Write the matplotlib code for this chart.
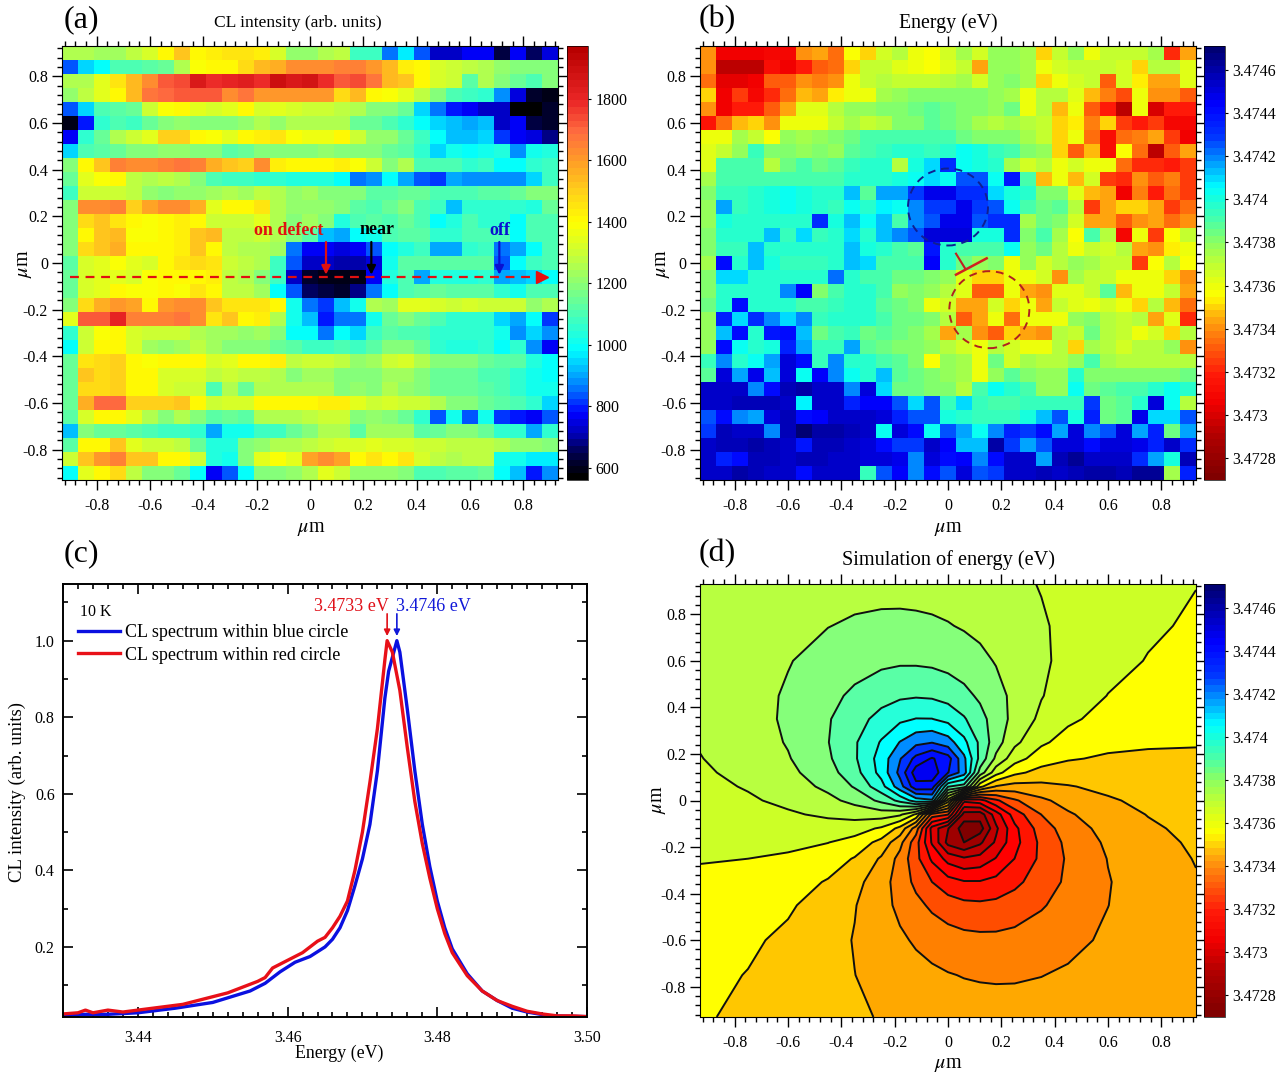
import numpy as np
import matplotlib
matplotlib.use('Agg')
import matplotlib.pyplot as plt
from matplotlib.colors import LinearSegmentedColormap, Normalize
from matplotlib.patches import Ellipse
from matplotlib.cm import ScalarMappable
from matplotlib.ticker import MultipleLocator

plt.rcParams['font.family'] = ['Liberation Serif', 'DejaVu Sans']
plt.rcParams['mathtext.fontset'] = 'stix'

W, H = 1288, 1072

# (a) CL intensity map, rows from top to bottom, counts / 10
cl_rows = [
    [125,125,124,124,128,132,142,153,142,144,146,146,143,132,122,122,125,128,108,108,86,96,83,73,73,77,78,64,77,66,75],
    [83,95,100,110,110,112,115,125,138,140,142,148,155,157,162,162,162,165,165,160,154,144,140,132,130,128,125,122,120,120,118],
    [125,125,135,146,154,164,171,174,185,178,180,183,178,190,185,188,179,172,174,168,155,152,140,132,130,113,125,120,115,110,118],
    [122,128,135,140,155,168,170,172,172,172,162,168,160,160,160,160,160,148,155,140,138,135,128,120,110,108,105,88,74,62,60],
    [84,94,110,112,115,130,138,140,135,132,135,140,132,135,132,130,130,128,125,118,118,115,94,86,80,78,72,72,58,58,62],
    [60,80,105,110,108,115,120,122,120,118,120,122,125,122,125,125,125,125,115,115,110,105,100,95,92,90,92,72,78,63,62],
    [78,105,115,125,130,135,150,150,140,138,135,142,143,146,138,136,136,140,130,122,122,115,108,100,92,93,95,81,77,75,68],
    [95,110,112,115,118,120,122,122,120,118,112,115,118,118,120,118,122,120,118,118,115,112,105,95,102,100,102,104,88,102,104],
    [118,142,152,166,162,162,165,168,165,156,153,150,162,144,142,140,140,144,138,130,118,125,110,110,110,105,108,100,100,105,108],
    [115,135,138,140,128,125,128,125,120,110,108,108,106,106,104,104,104,100,86,88,100,90,84,82,90,88,88,87,88,95,108],
    [108,130,130,130,128,122,118,122,122,123,125,123,128,125,122,123,120,120,120,112,113,115,115,110,110,110,112,113,115,118,118],
    [120,162,162,165,150,158,162,162,156,135,142,140,145,125,122,122,122,118,112,110,115,118,110,108,93,105,105,105,105,103,115],
    [120,148,153,145,140,138,140,144,140,130,130,130,134,125,120,123,118,103,110,112,110,115,110,100,103,110,105,105,98,110,110],
    [120,142,153,154,139,138,140,143,152,154,128,128,130,125,118,112,93,90,100,102,110,112,112,105,105,110,110,110,100,110,110],
    [120,148,153,156,141,140,142,144,152,142,128,125,125,123,86,77,77,75,77,84,100,103,108,90,90,105,108,85,90,100,110],
    [113,132,135,138,134,133,140,145,148,145,130,128,125,108,83,73,73,70,71,74,102,112,112,113,113,113,112,83,100,108,110],
    [115,133,135,135,133,138,140,140,142,143,128,125,120,108,73,62,60,60,60,76,103,110,90,104,104,104,105,90,93,95,100],
    [115,133,135,142,138,138,140,138,146,142,128,128,123,100,83,65,64,61,68,85,100,110,112,115,112,112,112,105,102,110,110],
    [120,148,156,160,158,142,160,162,162,152,145,146,145,142,102,86,82,93,102,125,123,135,135,132,130,132,130,130,130,122,125],
    [135,172,172,180,166,165,165,168,162,145,151,142,143,125,102,92,79,86,86,102,115,120,115,110,105,105,105,95,90,100,82],
    [105,130,138,140,132,130,130,130,125,123,123,122,123,118,100,100,86,100,95,108,112,110,110,105,105,105,105,102,88,95,88],
    [100,130,140,140,133,123,122,123,128,124,118,120,118,115,112,108,108,110,108,112,118,118,115,105,103,103,105,98,105,88,78],
    [115,145,148,150,140,138,140,140,140,132,135,140,140,144,128,130,130,128,122,123,130,133,125,120,118,118,115,112,112,103,98],
    [115,152,148,150,140,140,133,133,133,128,130,128,128,125,120,123,123,118,120,118,123,123,118,115,115,115,110,110,105,102,100],
    [115,148,148,150,140,140,132,130,130,110,125,115,125,125,125,125,125,120,122,118,125,122,118,115,115,115,112,110,105,102,102],
    [115,156,170,170,150,150,150,153,140,130,133,133,140,142,142,142,143,143,135,130,133,130,130,125,120,120,115,112,110,105,95],
    [113,133,140,140,135,125,120,125,120,112,115,112,125,125,125,128,130,130,120,122,118,115,105,83,101,84,102,82,79,77,84],
    [92,118,115,115,112,110,108,108,105,90,102,102,108,108,115,120,125,125,112,123,123,123,113,115,120,120,115,105,105,90,105],
    [113,142,142,152,135,130,130,128,115,103,103,118,122,125,125,128,130,133,133,135,133,132,130,130,128,128,128,125,122,122,118],
    [130,153,161,166,153,152,142,142,130,103,102,118,135,138,135,158,162,158,140,145,140,145,133,128,125,128,127,102,102,97,96],
    [100,135,140,148,128,120,120,115,98,78,84,100,120,120,122,125,135,130,122,122,122,120,110,110,112,113,115,100,92,80,88],
]

# (b) measured energy map, rows from top to bottom, (E - 3.47 eV) in 1e-5 eV
energy_rows = [
    [340,305,305,305,310,310,342,345,335,355,350,365,372,360,355,365,375,365,378,378,375,350,368,378,360,370,368,370,375,322,345],
    [340,292,292,292,312,305,318,332,335,350,368,370,362,358,355,362,368,345,378,378,375,358,365,368,368,368,365,350,372,372,362],
    [335,302,302,305,330,332,342,338,340,360,368,372,368,368,368,372,375,365,378,380,375,350,360,365,368,330,365,352,345,345,362],
    [350,305,325,308,322,335,348,345,352,358,360,375,378,380,382,382,382,380,378,375,358,372,372,362,348,338,328,358,342,342,330],
    [340,305,320,318,330,345,362,362,372,378,378,382,382,385,388,385,382,382,378,385,358,372,348,358,330,318,292,358,300,320,320],
    [315,335,348,350,340,358,360,358,368,375,368,372,380,382,388,385,382,375,372,375,372,370,350,352,338,350,325,318,325,308,308],
    [360,360,375,368,355,378,375,378,382,385,390,392,392,392,392,390,385,382,380,380,375,370,350,358,335,312,335,338,345,325,305],
    [362,368,378,395,382,382,378,382,378,388,392,395,398,398,395,398,402,400,395,390,380,378,350,330,348,312,355,335,292,330,345],
    [362,392,392,392,372,385,390,385,388,395,398,398,372,400,410,432,405,400,398,375,365,372,358,365,360,360,335,322,322,318,325],
    [375,390,392,392,392,392,392,392,392,396,396,396,400,405,410,402,425,425,402,438,390,348,358,348,365,325,322,340,332,338,325],
    [380,395,395,398,400,402,400,398,398,412,388,415,415,430,448,448,432,432,410,400,398,380,382,362,348,345,305,338,318,335,325],
    [378,415,395,398,400,402,400,396,395,405,396,408,402,418,430,430,448,430,425,405,392,385,388,372,325,345,350,350,345,325,335],
    [378,400,398,398,398,398,398,432,400,412,402,412,392,420,425,448,448,425,432,432,375,385,382,365,345,345,330,342,345,335,342],
    [380,396,396,398,412,395,410,395,398,410,398,412,418,425,450,450,450,400,400,432,382,392,375,355,390,372,310,358,325,355,370],
    [380,395,395,412,398,398,398,398,398,412,400,396,392,388,438,398,392,390,390,402,378,385,372,360,368,365,372,345,340,352,358],
    [375,440,398,412,400,395,395,395,396,412,410,392,392,392,445,398,385,378,380,358,378,365,372,378,375,370,368,325,355,372,355],
    [380,410,410,398,398,396,396,396,422,396,392,392,385,385,382,378,362,350,350,358,358,365,340,375,368,368,358,358,358,350,342],
    [382,396,396,396,396,420,445,380,390,396,396,392,378,380,378,372,362,332,332,358,345,340,362,362,368,388,348,358,358,368,345],
    [385,398,440,398,396,396,392,392,394,396,396,388,385,380,358,365,345,345,365,350,358,345,368,362,358,365,358,350,372,348,335],
    [378,435,410,432,420,410,418,395,396,396,396,390,385,385,382,372,332,345,358,335,358,360,360,378,382,372,368,372,345,362,322],
    [378,412,440,398,438,442,412,385,392,394,385,388,385,380,375,345,375,340,330,350,345,340,372,370,385,372,368,358,365,350,372],
    [378,440,405,396,400,435,415,395,395,415,388,385,382,382,378,372,365,358,372,365,360,358,372,350,375,372,365,372,372,378,342],
    [395,420,398,402,415,450,440,395,420,398,396,392,388,382,355,378,375,358,385,365,375,372,372,378,390,375,372,372,372,372,372],
    [388,450,415,448,412,450,405,445,418,405,398,412,388,385,380,378,375,358,378,388,382,378,378,398,380,380,382,382,382,382,385],
    [455,455,455,420,440,458,460,455,455,418,450,410,385,385,382,380,372,392,402,398,392,378,378,405,385,388,390,392,396,405,398],
    [455,455,458,458,458,455,408,455,455,435,445,445,425,410,425,395,410,395,392,392,395,395,395,395,430,385,388,398,452,405,372],
    [425,440,420,415,452,458,442,445,455,455,455,450,435,425,425,400,398,395,395,395,400,412,425,400,435,385,388,448,410,410,425],
    [430,458,455,455,420,458,470,460,460,458,455,405,452,440,402,425,415,402,420,435,430,440,415,452,420,425,450,415,435,385,415],
    [455,458,458,460,458,455,438,458,458,455,450,440,430,428,455,445,412,412,460,430,415,425,450,452,440,452,452,448,435,455,432],
    [455,435,440,458,458,455,458,458,455,455,452,450,448,420,452,442,445,420,440,455,455,415,458,462,455,455,455,432,415,400,458],
    [455,455,460,458,455,455,440,455,455,455,395,425,445,420,440,425,450,425,430,455,455,458,455,458,460,460,458,462,462,375,435],
]

# (c) spectra
red_energy = [3.43,3.432,3.433,3.434,3.436,3.438,3.44,3.442,3.444,3.446,3.448,3.45,3.452,3.454,3.456,3.457,3.458,3.46,3.462,3.464,3.465,3.466,3.467,3.468,3.469,3.47,3.471,3.472,3.473,3.4733,3.474,3.475,3.476,3.477,3.478,3.479,3.48,3.481,3.482,3.484,3.486,3.488,3.49,3.492,3.494,3.496,3.498,3.5]
red_counts = [.025,.028,.035,.028,.035,.03,.035,.04,.045,.05,.06,.07,.08,.095,.11,.12,.145,.165,.185,.215,.225,.25,.28,.32,.40,.50,.63,.77,.95,1.0,.97,.87,.72,.58,.47,.38,.30,.235,.185,.125,.085,.06,.045,.032,.025,.02,.02,.018]
blue_energy = [3.43,3.433,3.436,3.44,3.445,3.45,3.455,3.457,3.459,3.461,3.463,3.465,3.466,3.467,3.468,3.469,3.47,3.471,3.472,3.473,3.4735,3.4746,3.475,3.476,3.477,3.478,3.479,3.48,3.481,3.482,3.484,3.486,3.488,3.49,3.492,3.495,3.5]
blue_counts = [.02,.024,.024,.028,.04,.055,.085,.105,.135,.16,.175,.2,.22,.25,.295,.36,.43,.52,.66,.85,.92,1.0,.97,.82,.66,.52,.41,.32,.25,.195,.13,.085,.06,.04,.03,.02,.018]

# (d) simulated energy, rows from top to bottom, (E - 3.47 eV) in 1e-4 eV
sim_x = [-.93,-.75,-.6,-.45,-.35,-.25,-.18,-.12,-.06,0,.06,.12,.18,.25,.35,.45,.6,.75,.93]
sim_y = [.93,.75,.6,.45,.35,.25,.18,.12,.06,0,-.06,-.12,-.18,-.25,-.35,-.45,-.6,-.75,-.93]
sim_rows = [
    [38.05,38.26,38.42,38.56,38.63,38.65,38.65,38.62,38.58,38.52,38.44,38.35,38.25,38.11,37.91,37.71,37.44,37.20,36.97],
    [38.15,38.42,38.68,38.93,39.07,39.15,39.16,39.14,39.09,39.00,38.87,38.73,38.56,38.35,38.04,37.75,37.38,37.08,36.83],
    [38.19,38.54,38.90,39.30,39.55,39.74,39.81,39.80,39.74,39.60,39.41,39.17,38.89,38.56,38.10,37.70,37.23,36.91,36.66],
    [38.17,38.59,39.06,39.68,40.14,40.57,40.79,40.86,40.80,40.58,40.23,39.78,39.28,38.71,38.00,37.47,36.93,36.62,36.42],
    [38.11,38.56,39.10,39.87,40.55,41.29,41.75,41.98,41.97,41.65,41.05,40.29,39.49,38.64,37.73,37.13,36.61,36.36,36.22],
    [38.01,38.45,39.02,39.92,40.83,42.04,42.99,43.67,43.90,43.41,42.22,40.74,39.38,38.18,37.12,36.57,36.19,36.05,36.00],
    [37.92,38.33,38.88,39.80,40.81,42.38,43.88,45.25,46.05,45.37,43.17,40.65,38.74,37.37,36.42,36.03,35.83,35.81,35.84],
    [37.82,38.19,38.69,39.56,40.56,42.29,44.25,46.50,46.60,45.00,43.43,39.54,37.36,36.19,35.61,35.48,35.50,35.59,35.70],
    [37.70,38.02,38.45,39.18,40.04,41.58,43.53,45.60,45.50,41.00,40.50,36.20,34.87,34.57,34.68,34.89,35.17,35.37,35.56],
    [37.58,37.83,38.16,38.68,39.25,40.19,41.24,42.44,42.80,36.50,30.20,30.56,31.76,32.81,33.75,34.32,34.84,35.17,35.42],
    [37.44,37.63,37.83,38.11,38.32,38.43,38.13,36.80,32.50,32.00,27.50,27.40,29.47,31.42,32.96,33.82,34.55,34.98,35.30],
    [37.30,37.41,37.50,37.52,37.39,36.81,35.64,33.46,29.57,28.00,26.40,26.50,28.75,30.71,32.44,33.44,34.31,34.81,35.18],
    [37.16,37.19,37.17,36.97,36.58,35.63,34.26,32.35,29.83,27.63,26.95,27.75,29.12,30.62,32.19,33.20,34.12,34.67,35.08],
    [37.00,36.95,36.81,36.43,35.88,34.82,33.62,32.26,30.78,29.59,29.10,29.33,30.01,30.96,32.17,33.08,33.98,34.55,34.99],
    [36.78,36.64,36.39,35.87,35.27,34.36,33.51,32.71,31.95,31.35,31.03,31.02,31.25,31.71,32.45,33.13,33.90,34.44,34.89],
    [36.58,36.38,36.07,35.53,35.00,34.29,33.72,33.22,32.77,32.42,32.20,32.14,32.21,32.43,32.86,33.32,33.94,34.41,34.83],
    [36.34,36.09,35.77,35.30,34.90,34.44,34.11,33.83,33.59,33.40,33.26,33.20,33.19,33.26,33.45,33.70,34.10,34.46,34.81],
    [36.17,35.92,35.62,35.25,34.96,34.65,34.44,34.27,34.13,34.00,33.91,33.86,33.84,33.85,33.93,34.07,34.32,34.58,34.85],
    [36.03,35.80,35.56,35.29,35.09,34.89,34.75,34.65,34.56,34.48,34.42,34.38,34.35,34.35,34.37,34.44,34.58,34.74,34.95],
]

map_ticks = [-.8, -.6, -.4, -.2, 0, .2, .4, .6, .8]
map_labels = ['-0.8', '-0.6', '-0.4', '-0.2', '0', '0.2', '0.4', '0.6', '0.8']
energy_ticks = [3.4728, 3.473, 3.4732, 3.4734, 3.4736, 3.4738, 3.474, 3.4742, 3.4744, 3.4746]
energy_labels = ['3.4728', '3.473', '3.4732', '3.4734', '3.4736', '3.4738', '3.474', '3.4742', '3.4744', '3.4746']
cl_ticks = [600, 800, 1000, 1200, 1400, 1600, 1800]

TICK = 11.5

# fill colour of each contour band of (d), lowest band first
band_colors = [(.5, 0, 0), (.62, 0, 0), (.75, 0, 0), (.88, 0, 0), (1, 0, 0), (1, .08, 0), (1, .3, 0), (1, .5, 0),
               (1, .66, 0), (1, .78, 0), (1, 1, 0), (.8, 1, .15), (.72, 1, .25), (.52, 1, .48), (.35, 1, .65),
               (.15, 1, .85), (0, 1, 1), (0, .55, 1), (0, .2, 1), (0, .05, 1), (0, 0, .95), (0, 0, .95)]


def make_cmap(stops, vmin, vmax):
    return LinearSegmentedColormap.from_list('m', [((v - vmin) / (vmax - vmin), c) for v, c in stops], N=64)


CL_MIN, CL_MAX = 561, 1972
E_MIN, E_MAX = 3.4727, 3.47471
cl_cmap = make_cmap([(561, (0, 0, 0)), (640, (0, 0, .3)), (700, (0, 0, .7)), (770, (0, 0, 1)), (860, (0, .5, 1)),
                     (980, (0, 1, 1)), (1100, (.3, 1, .7)), (1200, (.55, 1, .45)), (1300, (.8, 1, .2)),
                     (1400, (1, 1, 0)), (1500, (1, .82, .1)), (1600, (1, .62, .15)), (1700, (1, .42, .25)),
                     (1800, (.92, .15, .15)), (1972, (.72, 0, 0))], CL_MIN, CL_MAX)
en_cmap = make_cmap([(3.4727, (.5, 0, 0)), (3.4729, (.7, 0, 0)), (3.47305, (.95, 0, 0)), (3.47318, (1, .1, .03)),
                     (3.47335, (1, .45, .05)), (3.47345, (1, .68, .05)), (3.47355, (1, 1, 0)), (3.4736, (.92, 1, .05)),
                     (3.4737, (.75, 1, .2)), (3.4738, (.55, 1, .38)), (3.4739, (.3, 1, .65)), (3.474, (.1, 1, .85)),
                     (3.47406, (0, 1, 1)), (3.47418, (0, .6, 1)), (3.4743, (0, .2, 1)), (3.47445, (0, 0, 1)),
                     (3.47471, (0, 0, .45))], E_MIN, E_MAX)


def px_axes(left, top, right, bottom):
    return fig.add_axes([left / W, 1 - bottom / H, (right - left) / W, (bottom - top) / H])


def put(x, y, s, **kw):
    fig.text(x / W, 1 - y / H, s, ha=kw.pop('ha', 'center'), va='center', **kw)


def style_map(ax):
    ax.set_xlim(-.93, .93)
    ax.set_ylim(-.93, .93)
    ax.set_xticks(map_ticks, map_labels, fontsize=TICK)
    ax.set_yticks(map_ticks, map_labels, fontsize=TICK)
    ax.xaxis.set_minor_locator(MultipleLocator(.04))
    ax.yaxis.set_minor_locator(MultipleLocator(.04))
    ax.tick_params(which='both', direction='out', top=True, right=True, width=1)
    ax.tick_params(which='major', length=7)
    ax.tick_params(which='minor', length=3.5)
    ax.tick_params(axis='x', which='major', pad=6)
    ax.tick_params(axis='y', which='major', pad=3)


def style_cbar(cb, ticks, labels):
    cb.set_ticks(ticks, labels=labels, fontsize=TICK)
    cb.ax.minorticks_off()
    cb.ax.tick_params(length=2.5, width=.8, pad=3)
    cb.outline.set_linewidth(.5)


fig = plt.figure(figsize=(W / 100, H / 100), dpi=100)
edges = np.linspace(-.93, .93, 32)

# (a)
ax_a = px_axes(62, 46, 558, 480)
cl_map = 10 * np.array(cl_rows)[::-1]
mesh_a = ax_a.pcolormesh(edges, edges, cl_map, cmap=cl_cmap, vmin=CL_MIN, vmax=CL_MAX)
style_map(ax_a)
ax_a.plot([-.9, .86], [-.06, -.06], color='#e01010', ls=(0, (4, 3)), lw=1.6)
ax_a.plot([.87], [-.06], marker='>', color='#e81010', ms=9, clip_on=False)
for ax_x, col in [(.06, '#e01010'), (.23, 'black'), (.71, '#0a10d0')]:
    ax_a.annotate('', xy=(ax_x, -.05), xytext=(ax_x, .09),
                  arrowprops=dict(arrowstyle='-|>', color=col, lw=1.6, mutation_scale=13, shrinkA=0, shrinkB=0))
ax_a.text(-.08, .14, 'on defect', color='#e01010', fontweight='bold', fontsize=13, ha='center', va='center')
ax_a.text(.25, .145, 'near', color='black', fontweight='bold', fontsize=13, ha='center', va='center')
ax_a.text(.71, .14, 'off', color='#0a10d0', fontweight='bold', fontsize=13, ha='center', va='center')
cb_a = fig.colorbar(mesh_a, cax=px_axes(567, 46, 588, 480))
style_cbar(cb_a, cl_ticks, [str(t) for t in cl_ticks])

# (b)
ax_b = px_axes(700, 46, 1196, 480)
energy_map = 3.47 + np.array(energy_rows)[::-1] * 1e-5
mesh_b = ax_b.pcolormesh(edges, edges, energy_map, cmap=en_cmap, vmin=E_MIN, vmax=E_MAX)
style_map(ax_b)
ax_b.add_patch(Ellipse((0, .24), .30, .33, fill=False, ec='#101f90', ls=(0, (4, 3)), lw=1.4))
ax_b.add_patch(Ellipse((.155, -.2), .30, .33, fill=False, ec='#b02020', ls=(0, (4, 3)), lw=1.4))
ax_b.plot([.03, .065], [.04, -.025], color='#c02020', lw=1.5)
ax_b.plot([.03, .145], [-.05, .02], color='#d02020', lw=1.8)
cb_b = fig.colorbar(mesh_b, cax=px_axes(1204, 46, 1225, 480))
style_cbar(cb_b, energy_ticks, energy_labels)

# (c)
ax_c = px_axes(63, 584, 587, 1017)
ax_c.plot(blue_energy, blue_counts, color='#0a10e0', lw=2.4, label='CL spectrum within blue circle')
ax_c.plot(red_energy, red_counts, color='#e81018', lw=2.4, label='CL spectrum within red circle')
ax_c.set_xlim(3.43, 3.50)
ax_c.set_ylim(.017, 1.148)
ax_c.set_xticks([3.44, 3.46, 3.48, 3.50], ['3.44', '3.46', '3.48', '3.50'], fontsize=TICK)
ax_c.set_yticks([.2, .4, .6, .8, 1.0], ['0.2', '0.4', '0.6', '0.8', '1.0'], fontsize=TICK)
ax_c.xaxis.set_minor_locator(MultipleLocator(.002))
ax_c.yaxis.set_minor_locator(MultipleLocator(.1))
ax_c.tick_params(which='both', direction='in', top=True, right=True, width=1.2)
ax_c.tick_params(which='major', length=7)
ax_c.tick_params(axis='x', which='major', pad=9)
ax_c.tick_params(axis='y', which='major', pad=6)
ax_c.tick_params(which='minor', length=3.5)
for spine in ax_c.spines.values():
    spine.set_linewidth(1.4)
ax_c.legend(loc='upper left', bbox_to_anchor=(.029, .908), frameon=False, fontsize=13, handlelength=2.3,
            handletextpad=.3, labelspacing=.33, borderpad=0, borderaxespad=0)
ax_c.text(3.4323, 1.075, '10 K', fontsize=11.5, va='center')
ax_c.text(3.4735, 1.09, '3.4733 eV', color='#e01018', fontsize=13, ha='right', va='center')
ax_c.text(3.4745, 1.09, '3.4746 eV', color='#1018d8', fontsize=13, ha='left', va='center')
ax_c.annotate('', xy=(3.4733, 1.012), xytext=(3.4733, 1.07),
              arrowprops=dict(arrowstyle='-|>', color='#e01018', lw=1.2, mutation_scale=9, shrinkA=0, shrinkB=0))
ax_c.annotate('', xy=(3.4746, 1.012), xytext=(3.4746, 1.07),
              arrowprops=dict(arrowstyle='-|>', color='#1018d8', lw=1.2, mutation_scale=9, shrinkA=0, shrinkB=0))

# (d)
ax_d = px_axes(700, 584, 1196, 1017)
sim_map = 3.47 + np.array(sim_rows) * 1e-4
levels = 3.47 + (np.arange(26, 49) - .05) * 1e-4
sim_norm = Normalize(E_MIN, E_MAX)
ax_d.contourf(sim_x, sim_y, sim_map, levels=levels, colors=band_colors)
ax_d.contour(sim_x, sim_y, sim_map, levels=levels, colors='#101010', linewidths=1.4, linestyles='solid')
style_map(ax_d)
cb_d = fig.colorbar(ScalarMappable(norm=sim_norm, cmap=en_cmap), cax=px_axes(1204, 584, 1225, 1017))
style_cbar(cb_d, energy_ticks, energy_labels)

# titles and axis labels
put(298, 23, 'CL intensity (arb. units)', fontsize=12.6)
put(948, 23, 'Energy (eV)', fontsize=14.3)
put(948, 560, 'Simulation of energy (eV)', fontsize=14.6)
for x, y, s in [(81, 20, '(a)'), (717, 20, '(b)'), (81, 554, '(c)'), (717, 554, '(d)')]:
    put(x, y, s, fontsize=23)
for x, y in [(311, 528), (948, 528), (948, 1065)]:
    put(x, y, r'$\mu$m', fontsize=14.5)
for x, y in [(25, 264), (663, 264), (658, 800)]:
    put(x, y, r'$\mu$m', fontsize=14.5, rotation=90)
put(17, 792, 'CL intensity (arb. units)', fontsize=13.5, rotation=90)
put(339, 1053, 'Energy (eV)', fontsize=12.9)

fig.savefig('out.png', dpi=100)
